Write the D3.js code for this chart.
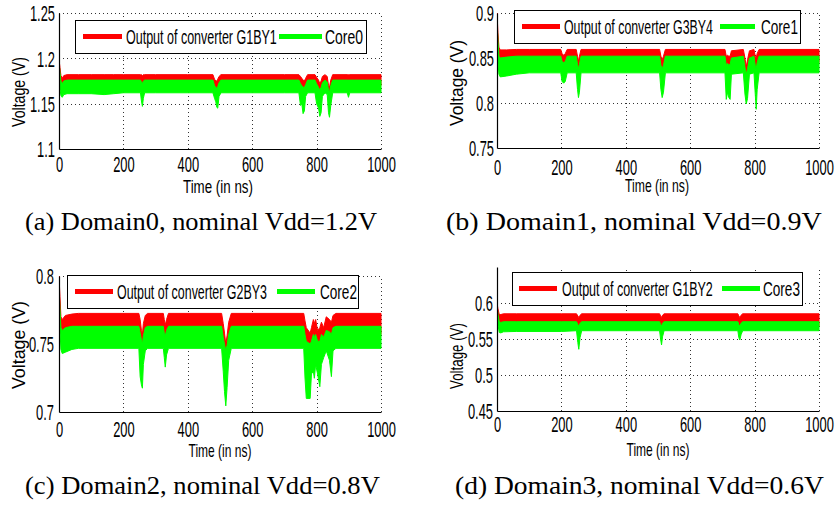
<!DOCTYPE html>
<html><head><meta charset="utf-8">
<script src="https://cdn.jsdelivr.net/npm/d3@7/dist/d3.min.js"></script>
<style>body{margin:0;background:#fff}svg{display:block}</style>
</head><body>
<svg id="chart" width="835" height="505"></svg>
<script>
// ---------------- DATA ----------------
const xTicks = [0, 200, 400, 600, 800, 1000];

// Domain0 (a)
const timeA    = [0,3,6,10,15,25,60,100,140,170,200,253,256,259,262,266,300,400,478,483,487,490,493,497,503,600,700,745,750,754,758,762,766,772,795,800,806,810,814,818,826,833,837,840,844,850,895,899,903,1000];
const redHiA   = [1.199,1.190,1.181,1.178,1.181,1.182,1.182,1.182,1.182,1.182,1.182,1.182,1.182,1.181,1.182,1.182,1.182,1.182,1.182,1.177,1.175,1.175,1.177,1.180,1.182,1.182,1.182,1.182,1.180,1.178,1.176,1.175,1.178,1.182,1.182,1.179,1.176,1.172,1.175,1.180,1.182,1.180,1.170,1.168,1.176,1.182,1.182,1.182,1.182,1.182];
const redLoA   = [1.194,1.178,1.170,1.168,1.169,1.170,1.170,1.170,1.170,1.170,1.170,1.170,1.168,1.167,1.169,1.170,1.170,1.170,1.170,1.165,1.163,1.162,1.163,1.167,1.170,1.170,1.170,1.170,1.167,1.165,1.163,1.163,1.166,1.170,1.170,1.166,1.163,1.160,1.162,1.167,1.170,1.168,1.160,1.158,1.164,1.170,1.170,1.170,1.170,1.170];
const greenHiA = [1.197,1.184,1.175,1.172,1.175,1.176,1.176,1.176,1.176,1.176,1.176,1.176,1.174,1.172,1.175,1.176,1.176,1.176,1.176,1.170,1.168,1.167,1.169,1.173,1.176,1.176,1.176,1.176,1.172,1.170,1.168,1.168,1.171,1.176,1.176,1.172,1.168,1.165,1.168,1.173,1.176,1.174,1.165,1.163,1.170,1.176,1.176,1.176,1.176,1.176];
const greenLoA = [1.188,1.166,1.159,1.157,1.160,1.161,1.161,1.161,1.160,1.161,1.162,1.162,1.153,1.147,1.156,1.162,1.162,1.162,1.162,1.156,1.152,1.146,1.145,1.158,1.162,1.162,1.162,1.162,1.148,1.150,1.139,1.142,1.158,1.162,1.162,1.150,1.145,1.136,1.140,1.158,1.162,1.160,1.140,1.135,1.148,1.162,1.162,1.157,1.162,1.162];
const yTicksA  = [1.1, 1.15, 1.2, 1.25];

// Domain1 (b)
const timeB    = [0,3,6,10,30,60,100,198,202,207,212,218,246,250,253,256,261,505,509,513,517,523,708,712,716,720,724,728,765,770,774,778,784,798,802,805,808,814,1000];
const redHiB   = [0.900,0.878,0.862,0.859,0.859,0.8595,0.8595,0.8595,0.855,0.853,0.855,0.8595,0.8595,0.852,0.846,0.852,0.8595,0.8595,0.852,0.848,0.852,0.8595,0.8595,0.852,0.853,0.852,0.852,0.858,0.8595,0.850,0.840,0.848,0.858,0.8595,0.852,0.850,0.855,0.8595,0.8595];
const redLoB   = [0.890,0.860,0.848,0.845,0.845,0.845,0.845,0.845,0.842,0.840,0.842,0.845,0.845,0.838,0.834,0.838,0.845,0.845,0.838,0.832,0.837,0.845,0.845,0.838,0.839,0.838,0.838,0.844,0.845,0.836,0.828,0.834,0.844,0.845,0.838,0.834,0.840,0.845,0.845];
const greenHiB = [0.895,0.868,0.852,0.850,0.851,0.852,0.852,0.852,0.846,0.845,0.846,0.852,0.852,0.843,0.838,0.843,0.852,0.852,0.842,0.838,0.842,0.852,0.852,0.842,0.844,0.842,0.843,0.850,0.852,0.840,0.832,0.838,0.850,0.852,0.842,0.838,0.845,0.852,0.852];
const greenLoB = [0.885,0.845,0.832,0.829,0.830,0.832,0.8335,0.8335,0.824,0.822,0.824,0.8335,0.8335,0.815,0.806,0.812,0.8335,0.8335,0.815,0.806,0.812,0.8335,0.8335,0.804,0.812,0.806,0.804,0.832,0.8335,0.810,0.799,0.805,0.832,0.8335,0.810,0.793,0.815,0.8335,0.8335];
const yTicksB  = [0.75, 0.8, 0.85, 0.9];

// Domain2 (c)
const timeC    = [0,3,6,10,20,40,60,248,252,256,259,262,268,275,324,327,330,334,340,505,510,514,518,522,527,535,760,764,768,780,784,790,793,797,803,810,815,822,830,840,846,851,860,1000];
const redHiC   = [0.800,0.785,0.770,0.768,0.771,0.772,0.7725,0.7725,0.768,0.760,0.757,0.765,0.771,0.7725,0.7725,0.768,0.764,0.768,0.7725,0.7725,0.765,0.758,0.750,0.756,0.766,0.7725,0.7725,0.767,0.762,0.758,0.762,0.768,0.765,0.768,0.760,0.762,0.766,0.762,0.770,0.768,0.766,0.771,0.7725,0.7725];
const redLoC   = [0.790,0.770,0.758,0.756,0.757,0.757,0.757,0.757,0.754,0.750,0.748,0.752,0.756,0.757,0.757,0.754,0.752,0.754,0.757,0.757,0.752,0.748,0.742,0.745,0.752,0.757,0.757,0.752,0.748,0.746,0.748,0.753,0.750,0.752,0.748,0.748,0.752,0.750,0.755,0.754,0.753,0.756,0.757,0.757];
const greenHiC = [0.792,0.775,0.762,0.760,0.762,0.763,0.763,0.763,0.758,0.753,0.750,0.756,0.762,0.763,0.763,0.758,0.756,0.760,0.763,0.763,0.755,0.750,0.745,0.749,0.757,0.763,0.763,0.757,0.752,0.750,0.752,0.757,0.755,0.757,0.752,0.752,0.757,0.755,0.760,0.759,0.757,0.762,0.763,0.763];
const greenLoC = [0.785,0.760,0.746,0.743,0.744,0.746,0.7468,0.7468,0.726,0.720,0.7175,0.735,0.745,0.7468,0.7468,0.740,0.733,0.742,0.7468,0.7468,0.730,0.715,0.7045,0.718,0.738,0.7468,0.7468,0.725,0.710,0.710,0.728,0.730,0.7248,0.735,0.728,0.7186,0.735,0.740,0.745,0.738,0.726,0.745,0.7468,0.7468];
const yTicksC  = [0.7, 0.75, 0.8];

// Domain3 (d)
const timeD    = [0,3,7,12,20,60,200,247,251,254,258,263,505,508,511,514,519,748,751,754,758,763,1000];
const redHiD   = [0.600,0.592,0.584,0.584,0.585,0.585,0.585,0.585,0.582,0.580,0.583,0.585,0.585,0.582,0.580,0.583,0.585,0.585,0.582,0.580,0.583,0.585,0.585];
const redLoD   = [0.594,0.578,0.568,0.568,0.568,0.568,0.568,0.568,0.565,0.563,0.566,0.568,0.568,0.565,0.564,0.566,0.568,0.568,0.565,0.564,0.566,0.568,0.568];
const greenHiD = [0.597,0.584,0.574,0.573,0.574,0.574,0.574,0.574,0.570,0.568,0.572,0.574,0.574,0.570,0.568,0.572,0.574,0.574,0.570,0.568,0.572,0.574,0.574];
const greenLoD = [0.590,0.570,0.559,0.5585,0.560,0.5605,0.5605,0.5615,0.545,0.5357,0.552,0.5615,0.5615,0.550,0.5417,0.553,0.5615,0.5615,0.552,0.5486,0.556,0.5615,0.5615];
const yTicksD  = [0.45, 0.5, 0.55, 0.6];

const converterNames = ["Output of converter G1BY1", "Output of converter G3BY4", "Output of converter G2BY3", "Output of converter G1BY2"];
const coreNames = ["Core0", "Core1", "Core2", "Core3"];
const captions = ["(a) Domain0, nominal Vdd=1.2V", "(b) Domain1, nominal Vdd=0.9V", "(c) Domain2, nominal Vdd=0.8V", "(d) Domain3, nominal Vdd=0.6V"];
const yDomains = [[1.1, 1.25], [0.75, 0.9], [0.7, 0.8], [0.45, 0.65]];
const xLabel = "Time (in ns)";
const yLabel = "Voltage (V)";

// ---------------- LAYOUT ----------------
const layouts = [
  {x0:59,x1:381,yTop:13,yBot:149, yGap:4, xBase:172, tl:{cx:218,y:193,w:70}, vl:{x:25,cy:92,len:70},
   lg:{x0:75,x1:366,y0:20,y1:53,r:[83,122],t1:[126,277],g:[279,322],t2:[325,363]}, cap:{x:25,y:230,w:352}},
  {x0:497,x1:819,yTop:13,yBot:148, yGap:3, xBase:175, tl:{cx:657,y:192,w:64}, vl:{x:463,cy:83,len:86},
   lg:{x0:514,x1:800,y0:10,y1:43,r:[522,560],t1:[564,713],g:[720,755],t2:[761,798]}, cap:{x:446,y:230,w:376}},
  {x0:59,x1:381,yTop:276,yBot:412, yGap:5, xBase:437, tl:{cx:220,y:457,w:63}, vl:{x:25,cy:345,len:88},
   lg:{x0:67,x1:358,y0:275,y1:308,r:[75,113],t1:[117,267],g:[277,315],t2:[320,357]}, cap:{x:25,y:494,w:355}},
  {x0:497,x1:819,yTop:267,yBot:411, yGap:4, xBase:432, tl:{cx:658,y:456,w:63}, vl:{x:463,cy:356,len:66},
   lg:{x0:512,x1:802,y0:272,y1:305,r:[519,557],t1:[562,713],g:[722,760],t2:[763,800]}, cap:{x:455,y:494,w:369}}
];

const series = [
  {t:timeA, rHi:redHiA, rLo:redLoA, gHi:greenHiA, gLo:greenLoA, yt:yTicksA},
  {t:timeB, rHi:redHiB, rLo:redLoB, gHi:greenHiB, gLo:greenLoB, yt:yTicksB},
  {t:timeC, rHi:redHiC, rLo:redLoC, gHi:greenHiC, gLo:greenLoC, yt:yTicksC},
  {t:timeD, rHi:redHiD, rLo:redLoD, gHi:greenHiD, gLo:greenLoD, yt:yTicksD}
];

const RED = "#ff0000", GREEN = "#00ff00";
const SANS = "'Liberation Sans', Arial, Helvetica, sans-serif";
const SERIF = "'Liberation Serif', 'Times New Roman', serif";
const TICK_FS = 21.5, TICK_SX = 0.6;

const svg = d3.select("#chart");

// place a text so that it starts at (x,y) and is exactly w wide (horizontal squeeze)
function fit(sel, x, y, w, rot) {
  const n = sel.node().getComputedTextLength();
  const s = n > 0 ? w / n : 1;
  sel.attr("transform", `translate(${x},${y})${rot ? " rotate(-90)" : ""} scale(${s},1)`);
  return sel;
}

series.forEach((s, k) => {
  const L = layouts[k];
  const g = svg.append("g");
  const x = d3.scaleLinear().domain([0, 1000]).range([L.x0, L.x1]);
  const y = d3.scaleLinear().domain(yDomains[k]).range([L.yBot, L.yTop]);

  // grid
  const grid = g.append("g").attr("stroke", "#333").attr("stroke-width", 1).attr("stroke-dasharray", "1,3");
  xTicks.filter(v => v > 0).forEach(v => {
    grid.append("line").attr("x1", Math.round(x(v)) + 0.5).attr("x2", Math.round(x(v)) + 0.5)
      .attr("y1", L.yBot).attr("y2", L.yTop);
  });
  s.yt.filter(v => v > yDomains[k][0] + 1e-9).forEach(v => {
    grid.append("line").attr("y1", Math.round(y(v)) + 0.5).attr("y2", Math.round(y(v)) + 0.5)
      .attr("x1", L.x0).attr("x2", L.x1);
  });

  // data bands
  const clipId = "clip" + k;
  svg.append("clipPath").attr("id", clipId).append("rect")
    .attr("x", L.x0).attr("y", L.yTop - 1).attr("width", L.x1 - L.x0 + 1).attr("height", L.yBot - L.yTop + 1);
  const idx = d3.range(s.t.length);
  const band = (lo, hi) => d3.area().x(i => x(s.t[i])).y0(i => y(lo[i])).y1(i => y(hi[i]))(idx);
  const dg = g.append("g").attr("clip-path", `url(#${clipId})`);
  dg.append("path").attr("d", band(s.rLo, s.rHi)).attr("fill", RED).attr("stroke", RED).attr("stroke-width", 1);
  dg.append("path").attr("d", band(s.gLo, s.gHi)).attr("fill", GREEN).attr("stroke", GREEN).attr("stroke-width", 1);

  // axes
  const ax = g.append("g").attr("transform", `translate(0,${L.yBot})`)
    .call(d3.axisBottom(x).tickValues(xTicks).tickSize(0).tickSizeOuter(0).tickFormat(d3.format("d")));
  ax.select(".domain").attr("stroke", "#000").attr("stroke-width", 1.2);
  ax.selectAll("text").attr("y", L.xBase - L.yBot).attr("dy", null)
    .attr("font-size", TICK_FS).attr("font-family", SANS).attr("fill", "#000")
    .attr("transform", `scale(${TICK_SX},1)`);

  const ay = g.append("g").attr("transform", `translate(${L.x0},0)`)
    .call(d3.axisLeft(y).tickValues(s.yt).tickSize(0).tickSizeOuter(0).tickFormat(d => String(+d.toFixed(2))));
  ay.select(".domain").attr("stroke", "#000").attr("stroke-width", 1.2);
  ay.selectAll("text").attr("x", -L.yGap / TICK_SX).attr("dy", "0.36em")
    .attr("font-size", TICK_FS).attr("font-family", SANS).attr("fill", "#000")
    .attr("transform", `scale(${TICK_SX},1)`);

  // axis labels
  fit(g.append("text").text(xLabel).attr("font-family", SANS).attr("font-size", 18),
      L.tl.cx - L.tl.w / 2, L.tl.y, L.tl.w, false);
  fit(g.append("text").text(yLabel).attr("font-family", SANS).attr("font-size", 18),
      L.vl.x, L.vl.cy + L.vl.len / 2, L.vl.len, true);

  // legend
  const lg = g.append("g");
  const ly = (L.lg.y0 + L.lg.y1) / 2;
  lg.append("rect").attr("x", L.lg.x0 + 0.5).attr("y", L.lg.y0 + 0.5)
    .attr("width", L.lg.x1 - L.lg.x0).attr("height", L.lg.y1 - L.lg.y0)
    .attr("fill", "#fff").attr("stroke", "#000").attr("stroke-width", 1);
  lg.append("line").attr("x1", L.lg.r[0]).attr("x2", L.lg.r[1]).attr("y1", ly).attr("y2", ly)
    .attr("stroke", RED).attr("stroke-width", 5);
  lg.append("line").attr("x1", L.lg.g[0]).attr("x2", L.lg.g[1]).attr("y1", ly).attr("y2", ly)
    .attr("stroke", GREEN).attr("stroke-width", 5);
  fit(lg.append("text").text(converterNames[k]).attr("font-family", SANS).attr("font-size", 21),
      L.lg.t1[0], ly + 7.5, L.lg.t1[1] - L.lg.t1[0], false);
  fit(lg.append("text").text(coreNames[k]).attr("font-family", SANS).attr("font-size", 21),
      L.lg.t2[0], ly + 7.5, L.lg.t2[1] - L.lg.t2[0], false);

  // caption
  fit(svg.append("text").text(captions[k]).attr("font-family", SERIF).attr("font-size", 25),
      L.cap.x, L.cap.y, L.cap.w, false);
});
</script>
</body></html>
